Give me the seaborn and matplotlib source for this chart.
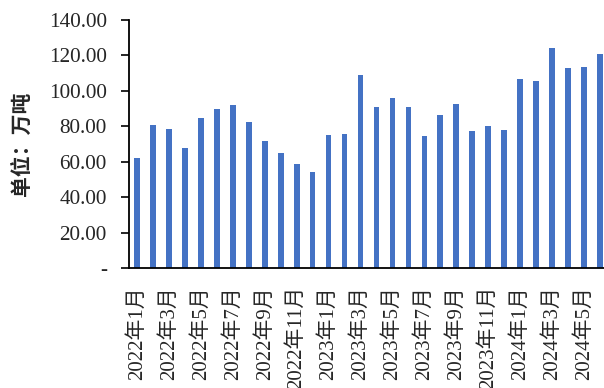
import matplotlib
matplotlib.use("Agg")
import matplotlib.pyplot as plt
import seaborn as sns
import pandas as pd

# Monthly volume, 10k tonnes
months = [f"{y}年{m}月" for y in (2022, 2023) for m in range(1, 13)] + \
         [f"2024年{m}月" for m in range(1, 7)]
values = [61.9, 80.5, 78.5, 67.8, 84.9, 89.6, 92.0, 82.4, 71.5, 64.7, 58.7, 54.2,
          75.1, 75.5, 109.2, 91.1, 96.2, 90.7, 74.3, 86.2, 92.6, 77.2, 80.2, 78.1,
          106.5, 105.6, 124.4, 112.9, 113.3, 120.7]
y_ticks = [0, 20, 40, 60, 80, 100, 120, 140]
y_tick_labels = ["-", "20.00", "40.00", "60.00", "80.00", "100.00", "120.00", "140.00"]
y_title = "单位：万吨"

df = pd.DataFrame({"month": months, "value": values})

sns.set_theme(style="white")
serif = ["Liberation Serif", "Noto Sans CJK SC"]
plt.rcParams["font.family"] = serif

fig = plt.figure(figsize=(6.04, 3.88), dpi=100)
ax = fig.add_axes([129 / 604, 1 - 268 / 388, 479 / 604, 248 / 388])

sns.barplot(data=df, x="month", y="value", color="#4472C4", width=0.36,
            saturation=1, ax=ax, edgecolor="none")

ax.set_xlim(-0.5, 29.5)
ax.set_ylim(0, 140)
ax.set_yticks(y_ticks)
ax.set_yticklabels(y_tick_labels, fontsize=15.3, family=serif)
tick_pos = list(range(0, len(months), 2))
ax.set_xticks(tick_pos)
ax.set_xticklabels([months[i] for i in tick_pos], rotation=90, fontsize=15,
                   family=serif, va="top", ha="center")
ax.set_xlabel("")
ax.set_ylabel(y_title, fontsize=15, fontweight="bold",
              family=["Noto Sans CJK SC", "DejaVu Sans"], labelpad=12)

for side in ("top", "right"):
    ax.spines[side].set_visible(False)
for side in ("left", "bottom"):
    ax.spines[side].set_color("black")
    ax.spines[side].set_linewidth(1.3)

ax.tick_params(axis="y", direction="out", length=6, width=1.2, color="black",
               left=True, pad=10)
ax.tick_params(axis="x", length=0, pad=13)

fig.savefig("out.png", dpi=100)
